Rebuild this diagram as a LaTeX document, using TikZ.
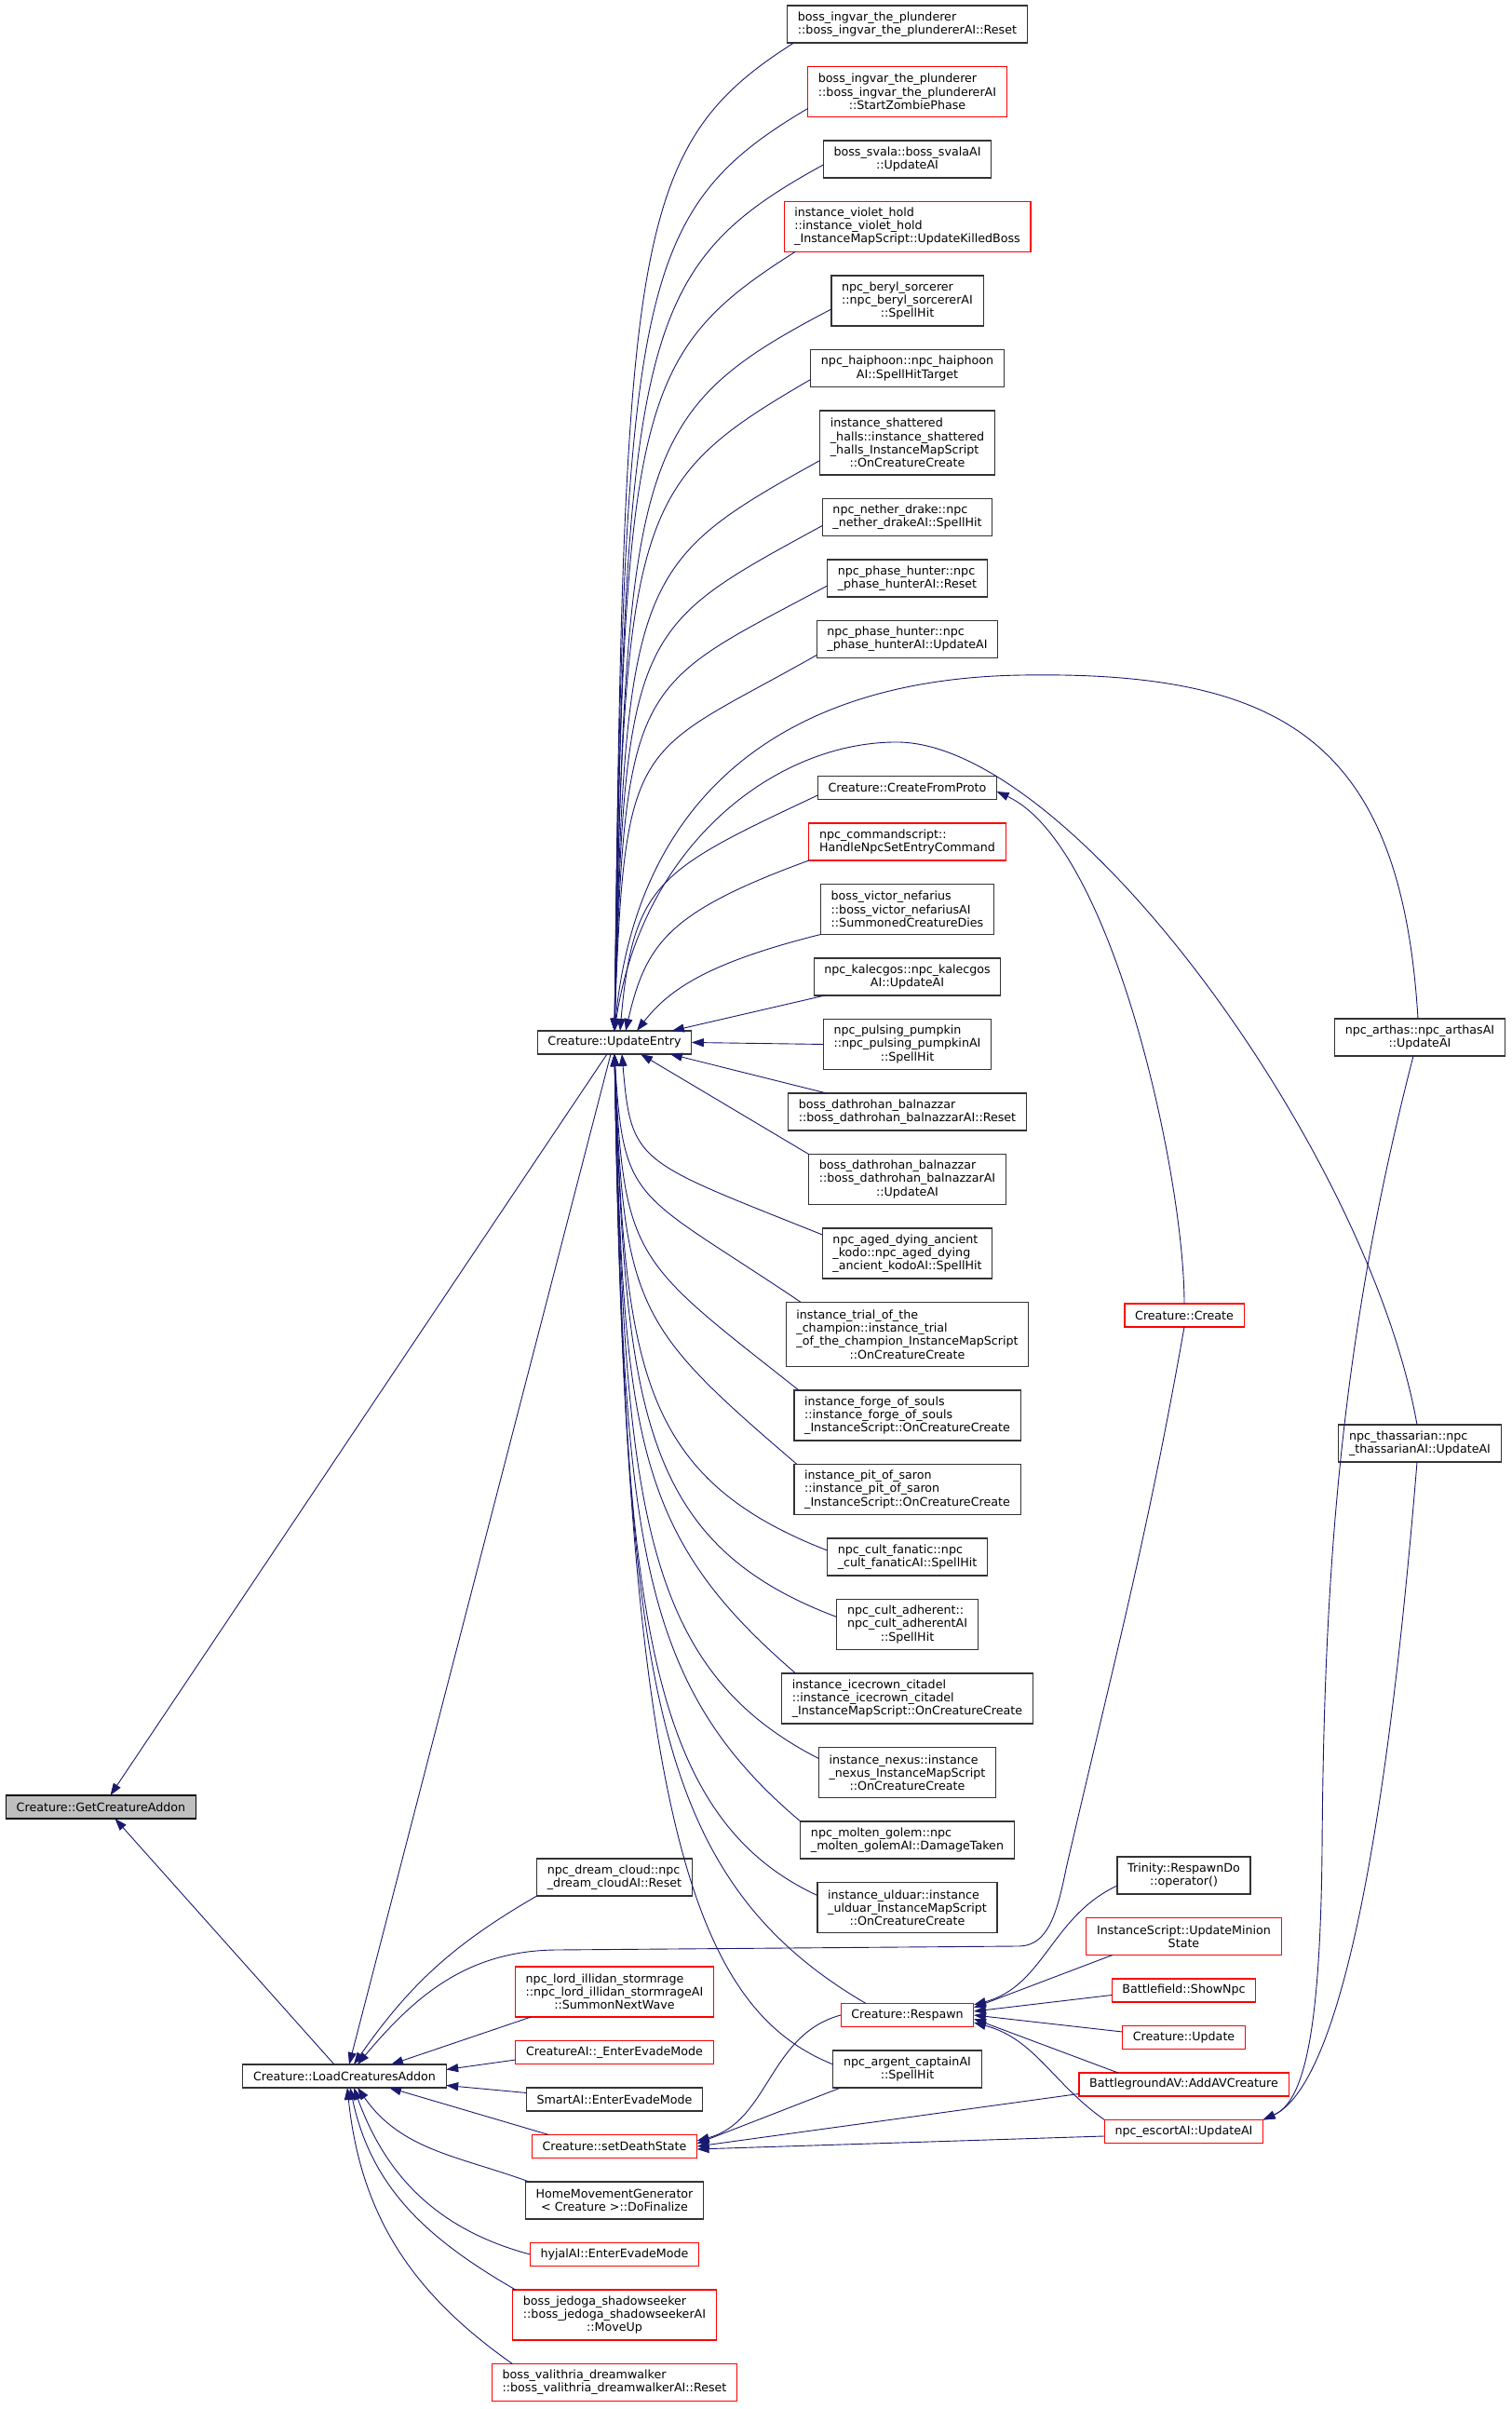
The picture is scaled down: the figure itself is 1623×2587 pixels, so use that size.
\documentclass[tikz,border=0pt]{standalone}
\usepackage{fontspec}
\setmainfont{DejaVu Sans}
\usepackage{tikz}
\usetikzlibrary{arrows.meta,positioning}
\definecolor{edgeblue}{HTML}{191970}
\definecolor{rootgrey}{HTML}{BFBFBF}
\definecolor{boxred}{HTML}{FF0000}

\begin{document}
\begin{tikzpicture}[x=1pt,y=1pt,node distance=25.5pt,
  func/.style={draw=black!80,line width=1.1pt,fill=white,align=left,outer sep=0pt,
    inner xsep=11.2pt,inner ysep=0pt,font=\fontsize{12.67pt}{14.2pt}\selectfont},
  funcred/.style={func,draw=boxred},
  funcroot/.style={func,fill=rootgrey,draw=black},
  ln1/.style={minimum height=25pt},
  ln2/.style={minimum height=40pt},
  ln3/.style={minimum height=54pt},
  ln4/.style={minimum height=69pt},
  calledge/.style={{Triangle[length=13pt,width=9pt]}-,draw=edgeblue,line width=0.9pt}]
\useasboundingbox (0,0) rectangle (1623,2587);

\node[funcroot,ln1] (get) at (108.5,646.5) {Creature::GetCreatureAddon};
\node[func,ln1] (load) at (370,357.5) {Creature::LoadCreaturesAddon};
\node[func,ln1] (upd) at (660,1467.5) {Creature::UpdateEntry};

\node[func,ln2] (ingvarReset) at (974.5,2561) {boss\_ingvar\_the\_plunderer\\::boss\_ingvar\_the\_plundererAI::Reset};
\node[funcred,ln3,below=of ingvarReset] (ingvarZombie) {boss\_ingvar\_the\_plunderer\\::boss\_ingvar\_the\_plundererAI\\\hfil::StartZombiePhase};
\node[func,ln2,below=of ingvarZombie] (svala) {boss\_svala::boss\_svalaAI\\\hfil::UpdateAI};
\node[funcred,ln3,below=of svala] (violetHold) {instance\_violet\_hold\\::instance\_violet\_hold\\\_InstanceMapScript::UpdateKilledBoss};
\node[func,ln3,below=of violetHold] (beryl) {npc\_beryl\_sorcerer\\::npc\_beryl\_sorcererAI\\\hfil::SpellHit};
\node[func,ln2,below=of beryl] (haiphoon) {npc\_haiphoon::npc\_haiphoon\\\hfil AI::SpellHitTarget};
\node[func,ln4,below=of haiphoon] (shattered) {instance\_shattered\\\_halls::instance\_shattered\\\_halls\_InstanceMapScript\\\hfil::OnCreatureCreate};
\node[func,ln2,below=of shattered] (netherDrake) {npc\_nether\_drake::npc\\\_nether\_drakeAI::SpellHit};
\node[func,ln2,below=of netherDrake] (phaseReset) {npc\_phase\_hunter::npc\\\_phase\_hunterAI::Reset};
\node[func,ln2,below=of phaseReset] (phaseUpdate) {npc\_phase\_hunter::npc\\\_phase\_hunterAI::UpdateAI};
\node[func,ln1,below=127pt of phaseUpdate] (fromProto) {Creature::CreateFromProto};
\node[funcred,ln2,below=of fromProto] (setEntry) {npc\_commandscript::\\HandleNpcSetEntryCommand};
\node[func,ln3,below=of setEntry] (victor) {boss\_victor\_nefarius\\::boss\_victor\_nefariusAI\\::SummonedCreatureDies};
\node[func,ln2,below=of victor] (kalecgos) {npc\_kalecgos::npc\_kalecgos\\\hfil AI::UpdateAI};
\node[func,ln3,below=of kalecgos] (pumpkin) {npc\_pulsing\_pumpkin\\::npc\_pulsing\_pumpkinAI\\\hfil::SpellHit};
\node[func,ln2,below=of pumpkin] (dathReset) {boss\_dathrohan\_balnazzar\\::boss\_dathrohan\_balnazzarAI::Reset};
\node[func,ln3,below=of dathReset] (dathUpdate) {boss\_dathrohan\_balnazzar\\::boss\_dathrohan\_balnazzarAI\\\hfil::UpdateAI};
\node[func,ln3,below=of dathUpdate] (agedKodo) {npc\_aged\_dying\_ancient\\\_kodo::npc\_aged\_dying\\\_ancient\_kodoAI::SpellHit};
\node[func,ln4,below=of agedKodo] (trialChampion) {instance\_trial\_of\_the\\\_champion::instance\_trial\\\_of\_the\_champion\_InstanceMapScript\\\hfil::OnCreatureCreate};
\node[func,ln3,below=of trialChampion] (forgeSouls) {instance\_forge\_of\_souls\\::instance\_forge\_of\_souls\\\_InstanceScript::OnCreatureCreate};
\node[func,ln3,below=of forgeSouls] (pitSaron) {instance\_pit\_of\_saron\\::instance\_pit\_of\_saron\\\_InstanceScript::OnCreatureCreate};
\node[func,ln2,below=of pitSaron] (cultFanatic) {npc\_cult\_fanatic::npc\\\_cult\_fanaticAI::SpellHit};
\node[func,ln3,below=of cultFanatic] (cultAdherent) {npc\_cult\_adherent::\\npc\_cult\_adherentAI\\\hfil::SpellHit};
\node[func,ln3,below=of cultAdherent] (icecrown) {instance\_icecrown\_citadel\\::instance\_icecrown\_citadel\\\_InstanceMapScript::OnCreatureCreate};
\node[func,ln3,below=of icecrown] (nexus) {instance\_nexus::instance\\\_nexus\_InstanceMapScript\\\hfil::OnCreatureCreate};
\node[func,ln2,below=of nexus] (moltenGolem) {npc\_molten\_golem::npc\\\_molten\_golemAI::DamageTaken};
\node[func,ln3,below=of moltenGolem] (ulduar) {instance\_ulduar::instance\\\_ulduar\_InstanceMapScript\\\hfil::OnCreatureCreate};
\node[funcred,ln1,below=76pt of ulduar] (respawn) {Creature::Respawn};
\node[func,ln2,below=of respawn] (argent) {npc\_argent\_captainAI\\\hfil::SpellHit};

\node[func,ln2] (dream) at (660,571) {npc\_dream\_cloud::npc\\\_dream\_cloudAI::Reset};
\node[funcred,ln3,below=76pt of dream] (illidan) {npc\_lord\_illidan\_stormrage\\::npc\_lord\_illidan\_stormrageAI\\\hfil::SummonNextWave};
\node[funcred,ln1,below=of illidan] (evadeMode) {CreatureAI::\_EnterEvadeMode};
\node[func,ln1,below=of evadeMode] (smartEvade) {SmartAI::EnterEvadeMode};
\node[funcred,ln1,below=of smartEvade] (deathState) {Creature::setDeathState};
\node[func,ln2,below=of deathState] (homeGen) {HomeMovementGenerator\\\hfil< Creature >::DoFinalize};
\node[funcred,ln1,below=of homeGen] (hyjal) {hyjalAI::EnterEvadeMode};
\node[funcred,ln3,below=of hyjal] (jedoga) {boss\_jedoga\_shadowseeker\\::boss\_jedoga\_shadowseekerAI\\\hfil::MoveUp};
\node[funcred,ln2,below=of jedoga] (valithria) {boss\_valithria\_dreamwalker\\::boss\_valithria\_dreamwalkerAI::Reset};

\node[funcred,ln1] (create) at (1272,1174.5) {Creature::Create};
\node[func,ln2] (trinity) at (1271.5,573) {Trinity::RespawnDo\\\hfil::operator()};
\node[funcred,ln2,below=of trinity] (minionState) {InstanceScript::UpdateMinion\\\hfil State};
\node[funcred,ln1,below=of minionState] (showNpc) {Battlefield::ShowNpc};
\node[funcred,ln1,below=of showNpc] (creatureUpdate) {Creature::Update};
\node[funcred,ln1,below=of creatureUpdate] (addAV) {BattlegroundAV::AddAVCreature};
\node[funcred,ln1,below=of addAV] (escort) {npc\_escortAI::UpdateAI};

\node[func,ln2] (arthas) at (1525,1473) {npc\_arthas::npc\_arthasAI\\\hfil::UpdateAI};
\node[func,ln2] (thassarian) at (1525,1037) {npc\_thassarian::npc\\\_thassarianAI::UpdateAI};

\draw[calledge] ([xshift=10pt]get.north) -- ([xshift=-8pt]upd.south);
\draw[calledge] ([xshift=15pt]get.south) -- ([xshift=-11pt]load.north);
\draw[calledge] ([xshift=5pt]load.north) -- ([xshift=-4pt]upd.south);

\draw[calledge] (upd.north) .. controls +(10,849) and +(-174,-110) .. ([xshift=7pt]ingvarReset.south west);
\draw[calledge] (upd.north) .. controls +(10,793) and +(-186,-110) .. ([yshift=-18pt]ingvarZombie.west);
\draw[calledge] (upd.north) .. controls +(11,745) and +(-201,-110) .. ([yshift=-6pt]svala.west);
\draw[calledge] (upd.north) .. controls +(10,670) and +(-174,-110) .. ([xshift=12pt]violetHold.south west);
\draw[calledge] (upd.north) .. controls +(12,621) and +(-210,-110) .. ([yshift=-9pt]beryl.west);
\draw[calledge] (upd.north) .. controls +(10,561) and +(-189,-110) .. ([yshift=-12pt]haiphoon.west);
\draw[calledge] (upd.north) .. controls +(11,491) and +(-198,-110) .. ([yshift=-19pt]shattered.west);
\draw[calledge] (upd.north) .. controls +(11,435) and +(-201,-110) .. ([yshift=-9pt]netherDrake.west);
\draw[calledge] (upd.north) .. controls +(11,384) and +(-205,-110) .. ([yshift=-8pt]phaseReset.west);
\draw[calledge] (upd.north) .. controls +(11,324) and +(-194,-110) .. ([yshift=-17pt]phaseUpdate.west);
\draw[calledge] ([xshift=6pt]upd.north) .. controls +(14,160) and +(-170,-80) .. ([yshift=-8pt]fromProto.west);
\draw[calledge] ([xshift=12pt]upd.north) .. controls +(22,95) and +(-150,-55) .. (setEntry.south west);
\draw[calledge] ([xshift=24pt]upd.north) .. controls +(35,45) and +(-120,-30) .. (victor.south west);
\draw[calledge] ([xshift=-21pt]upd.north east) -- ([xshift=12pt]kalecgos.south west);
\draw[calledge] (upd.east) -- (pumpkin.west);
\draw[calledge] ([xshift=-23pt]upd.south east) -- ([xshift=41pt]dathReset.north west);
\draw[calledge] ([xshift=28pt]upd.south) -- (dathUpdate.north west);
\draw[calledge] ([xshift=8pt]upd.south) .. controls +(10,-118) and +(-200,80) .. ([yshift=20pt]agedKodo.west);
\draw[calledge] (upd.south) .. controls +(10,-164) and +(-178,120) .. ([xshift=16pt]trialChampion.north west);
\draw[calledge] (upd.south) .. controls +(10,-223) and +(-177,140) .. ([xshift=5pt]forgeSouls.north west);
\draw[calledge] (upd.south) .. controls +(10,-273) and +(-175,150) .. ([xshift=3pt]pitSaron.north west);
\draw[calledge] (upd.south) .. controls +(11,-330) and +(-206,80) .. ([yshift=7pt]cultFanatic.west);
\draw[calledge] (upd.south) .. controls +(12,-374) and +(-214,80) .. ([yshift=8pt]cultAdherent.west);
\draw[calledge] (upd.south) .. controls +(10,-412) and +(-174,150) .. ([xshift=15pt]icecrown.north west);
\draw[calledge] (upd.south) .. controls +(11,-469) and +(-196,100) .. ([yshift=15pt]nexus.west);
\draw[calledge] (upd.south) .. controls +(10,-512) and +(-178,150) .. (moltenGolem.north west);
\draw[calledge] (upd.south) .. controls +(11,-560) and +(-195,90) .. ([yshift=13pt]ulduar.west);
\draw[calledge] (upd.south) .. controls +(14,-650) and +(-240,140) .. ([xshift=27pt]respawn.north west);
\draw[calledge] (upd.south) .. controls +(12,-820) and +(-150,60) .. ([yshift=5pt]argent.west);
\draw[calledge] (upd.north) .. controls +(25,260) and +(-250,-3) .. (1100,1862) .. controls (1380,1866) and (1505,1790) .. ([xshift=-2pt]arthas.north);
\draw[calledge] (upd.north) .. controls +(30,200) and +(-130,0) .. (963,1790) .. controls (1150,1790) and (1470,1350) .. ([xshift=-3pt]thassarian.north);

\draw[calledge] ([yshift=-4pt]fromProto.east) to[out=-25,in=90,looseness=0.6] (create.north);

\draw[calledge] ([xshift=10pt]load.north) to[out=55,in=210] (dream.south west);
\draw[calledge] ([xshift=14pt]load.north) to[out=50,in=180] (600,493) -- (1095,497) .. controls (1125,498) and (1135,530) .. (1145,580) to[out=77,in=-100] (create.south);
\draw[calledge] ([xshift=50pt]load.north) -- ([xshift=17pt]illidan.south west);
\draw[calledge] ([yshift=7pt]load.east) -- ([yshift=-8pt]evadeMode.west);
\draw[calledge] ([yshift=-10pt]load.east) -- ([yshift=7pt]smartEvade.west);
\draw[calledge] ([xshift=48pt]load.south) -- ([xshift=18pt]deathState.north west);
\draw[calledge] ([xshift=14pt]load.south) to[out=-55,in=160] ([xshift=4pt]homeGen.north west);
\draw[calledge] ([xshift=10pt]load.south) to[out=-70,in=165] (hyjal.west);
\draw[calledge] ([xshift=6pt]load.south) to[out=-78,in=150] ([xshift=3pt]jedoga.north west);
\draw[calledge] ([xshift=3pt]load.south) to[out=-84,in=145] ([xshift=22pt]valithria.north west);

\draw[calledge] ([yshift=11pt]respawn.east) to[out=15,in=205] ([yshift=-11pt]trinity.west);
\draw[calledge] ([yshift=8pt]respawn.east) -- ([xshift=28pt]minionState.south west);
\draw[calledge] ([yshift=4pt]respawn.east) -- ([yshift=-5pt]showNpc.west);
\draw[calledge] (respawn.east) -- ([yshift=6pt]creatureUpdate.west);
\draw[calledge] ([yshift=-4pt]respawn.east) -- ([xshift=42pt]addAV.north west);
\draw[calledge] ([yshift=-8pt]respawn.east) to[out=-15,in=145] (escort.north west);

\draw[calledge] ([yshift=6pt]deathState.east) to[out=15,in=195] (respawn.west);
\draw[calledge] ([yshift=3pt]deathState.east) -- ([xshift=8pt]argent.south west);
\draw[calledge] (deathState.east) -- ([yshift=-10pt]addAV.west);
\draw[calledge] ([yshift=-3pt]deathState.east) -- ([yshift=-5pt]escort.west);

\draw[calledge] (escort.north east) .. controls (1400,330) and (1418,400) .. (1420,600) .. controls (1422,900) and (1440,1150) .. ([xshift=-7pt]arthas.south);
\draw[calledge] (escort.north east) .. controls (1420,340) and (1480,500) .. ([xshift=-3pt]thassarian.south);
\end{tikzpicture}
\end{document}
